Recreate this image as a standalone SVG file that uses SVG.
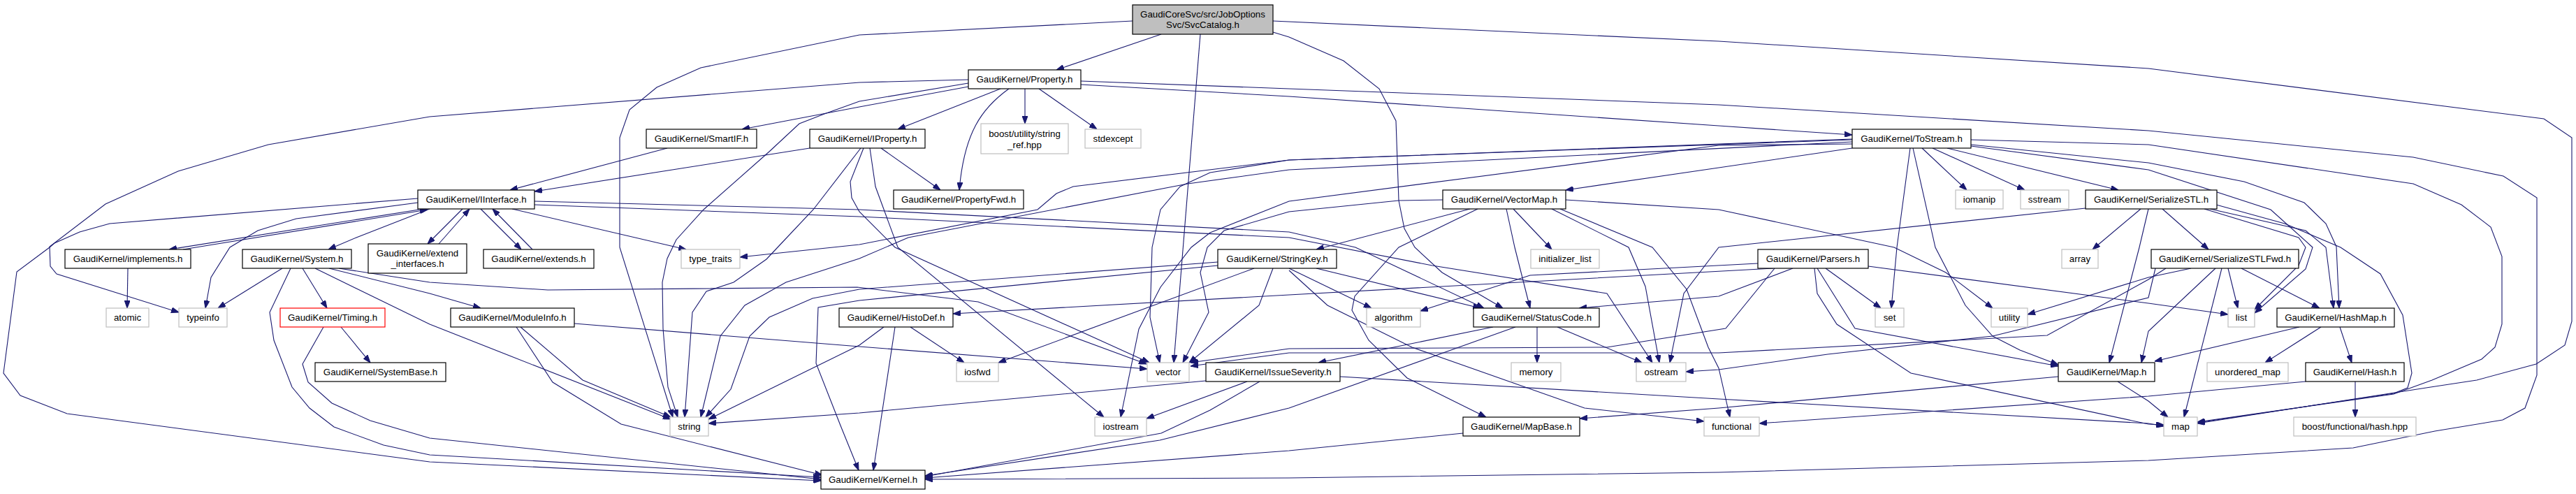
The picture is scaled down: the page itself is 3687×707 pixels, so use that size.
<svg xmlns="http://www.w3.org/2000/svg" width="3687" height="707" viewBox="0 0 3687 707">
<defs>
<marker id="a" viewBox="0 0 11 8" refX="11" refY="4" markerWidth="11" markerHeight="8" markerUnits="userSpaceOnUse" orient="auto">
<path d="M0,0 L11,4 L0,8 z" fill="#191970" stroke="#191970" stroke-width="1"/>
</marker>
</defs>
<style>
rect{fill:#ffffff;stroke:#000000;stroke-width:1.2}
.s rect{stroke:#bfbfbf}
.r rect{stroke:#ff0000}
.root rect{fill:#bfbfbf}
text{font-family:"Liberation Sans",Arial,Helvetica,sans-serif;font-size:13.3px;fill:#000000;text-anchor:middle}
#edges path{fill:none;stroke:#191970;stroke-width:1.1;marker-end:url(#a)}
</style>
<rect x="0" y="0" width="3687" height="707" style="fill:#ffffff;stroke:none"/>
<g id="edges">
<path d="M1662,49 L1512,100"/>
<path d="M1621,30 L1230,50 L1003,97 L940,125 L901,157 L887,197 L887,354 L963,597"/>
<path d="M1718,49 L1680,519"/>
<path d="M1822,46 L1845,53 L1923,87 L1974,127 L1998,173 L2002,287 L2010,327 L2025,354 L2064,390 L2151,441"/>
<path d="M1822,30 L2460,59 L3075,98 L3641,170 L3681,197 L3681,460 L3671,494 L3630,521 L3545,544 L3479,554 L3145,606"/>
<path d="M1432,127 L1285,185"/>
<path d="M1444,127 C1405,155 1380,190 1373,272"/>
<path d="M1467,127 L1467,177"/>
<path d="M1487,127 L1570,185"/>
<path d="M1386,124 L1230,153 L1062,185"/>
<path d="M1547,121 L1845,138 L2460,180 L2651,193"/>
<path d="M1547,116 L1845,127 L2460,150 L3075,187 L3454,225 L3583,252 L3631,283 L3631,537 L3614,584 L3582,601 L3485,617 L3368,641 L3075,659 L2460,676 L1845,684 L1324,686"/>
<path d="M1386,114 L1230,118 L615,167 L384,207 L255,245 L151,292 L71,353 L72,381 L81,392 L256,447"/>
<path d="M1386,119 L1230,145 L1180,163 L1144,177 L1101,217 L1007,300 L968,343 L955,370 L948,404 L949,470 L956,554 L970,597"/>
<path d="M598,284 L157,320 L114,332 L78,348 L71,354 L24,389 L5,534 L29,566 L96,592 L615,661 L1175,688"/>
<path d="M598,290 L424,313 L369,330 L329,354 L302,397 L294,441"/>
<path d="M615,299 L510,340 L470,357"/>
<path d="M606,299 L242,357"/>
<path d="M262,357 L612,300"/>
<path d="M662,299 L612,349"/>
<path d="M628,349 L672,299"/>
<path d="M688,299 L746,357"/>
<path d="M762,357 L705,299"/>
<path d="M733,299 L982,357"/>
<path d="M765,288 L1230,300 L1845,332 L1940,354 L2124,441"/>
<path d="M765,293 L1230,310 L1845,340 L2050,380 L2300,420 L2365,519"/>
<path d="M183,384 L182,441"/>
<path d="M404,384 L312,441"/>
<path d="M416,384 L386,447 L392,487 L418,554 L443,584 L478,611 L549,637 L615,651 L1175,683"/>
<path d="M433,384 L468,441"/>
<path d="M451,384 L615,464 L960,600"/>
<path d="M471,384 L615,420 L688,441"/>
<path d="M485,384 L615,404 L784,415 L1227,411 L1400,432 L1641,521"/>
<path d="M488,468 L530,519"/>
<path d="M463,468 L433,521 L441,547 L475,577 L530,602 L615,627 L1175,686"/>
<path d="M739,468 L791,547 L889,607 L1177,680"/>
<path d="M745,468 L834,544 L960,597"/>
<path d="M822,463 L1230,496 L1642,528"/>
<path d="M1159,212 L765,274"/>
<path d="M1261,212 L1346,272"/>
<path d="M1232,212 L1164,300 L1113,354 L1097,371 L1050,404 L1011,417 L991,447 L980,597"/>
<path d="M1236,212 L1217,260 L1219,283 L1230,303 L1281,354 L1645,519"/>
<path d="M1245,212 L1253,267 L1285,354 L1580,597"/>
<path d="M955,212 L730,272"/>
<path d="M2751,212 L2815,272"/>
<path d="M2766,212 L2898,272"/>
<path d="M2787,212 L3032,272"/>
<path d="M2734,212 L2715,354 L2707,441"/>
<path d="M2738,212 L2770,354 L2813,437 L2852,481 L2891,501 L2946,522"/>
<path d="M2651,212 L2460,240 L2241,272"/>
<path d="M2821,207 L3075,233 L3212,260 L3298,290 L3329,320 L3344,353 L3348,441"/>
<path d="M2821,209 L3075,243 L3250,300 L3310,354 L3300,385 L3227,448"/>
<path d="M2821,200 L3075,207 L3454,263 L3523,293 L3565,325 L3581,367 L3581,464 L3571,497 L3552,514 L3481,544 L3426,564 L3145,604"/>
<path d="M2651,203 L1845,243 L1700,263 L1300,340 L1230,370 L1125,404 L1066,437 L1031,481 L1003,597"/>
<path d="M2651,200 L1845,229 L1536,267 L1512,277 L1485,300 L1230,350 L1059,368"/>
<path d="M2651,206 L2460,208 L1845,288 L1732,333 L1705,354 L1661,411 L1630,471 L1604,597"/>
<path d="M2651,199 L1845,229 L1732,247 L1689,267 L1661,300 L1649,354 L1646,454 L1660,519"/>
<path d="M2104,299 L1884,357"/>
<path d="M2115,299 L2002,354 L1939,424 L1935,444 L1959,487 L2014,541 L2127,597"/>
<path d="M2156,299 L2168,354 L2190,441"/>
<path d="M2166,299 L2221,357"/>
<path d="M2221,299 L2331,354 L2355,410 L2375,519"/>
<path d="M2233,299 L2365,354 L2414,414 L2445,497 L2460,527 L2476,597"/>
<path d="M2241,286 L2460,300 L2711,354 L2785,390 L2852,441"/>
<path d="M2065,286 L2002,287 L1845,303 L1752,330 L1728,354 L1718,390 L1730,447 L1693,519"/>
<path d="M1845,384 L1963,441"/>
<path d="M1884,384 L2119,441"/>
<path d="M1845,387 L1900,437 L2021,497 L2268,584 L2439,603"/>
<path d="M1795,384 L1429,519"/>
<path d="M1822,384 L1802,437 L1702,519"/>
<path d="M1743,375 L1230,414 L1163,427 L1101,454 L1073,481 L1046,557 L1010,597"/>
<path d="M1743,380 L1230,430 L1171,440 L1168,520 L1203,609 L1229,673"/>
<path d="M1303,468 L1380,519"/>
<path d="M1281,468 L1250,673"/>
<path d="M1265,468 L1230,494 L1014,600"/>
<path d="M2613,384 L2692,441"/>
<path d="M2601,384 L2655,470 L2946,524"/>
<path d="M2597,384 L2601,420 L2629,464 L2735,534 L3075,607 L3097,608"/>
<path d="M2674,381 L3075,434 L3189,450"/>
<path d="M2516,377 L2190,394 L2033,445"/>
<path d="M2538,384 L1845,422 L1364,449"/>
<path d="M2566,384 L2460,424 L2260,441"/>
<path d="M2540,384 L2470,470 L2300,497 L1845,499 L1704,519"/>
<path d="M3095,299 L3161,357"/>
<path d="M3064,299 L2995,357"/>
<path d="M3075,299 L3062,354 L3019,519"/>
<path d="M3163,299 L3300,330 L3329,354 L3340,441"/>
<path d="M3155,299 L3290,340 L3300,354 L3290,380 L3227,443"/>
<path d="M3172,293 L3270,320 L3350,354 L3407,392 L3439,451 L3452,534 L3446,555 L3426,563 L3145,605"/>
<path d="M2985,298 L2460,354 L2410,420 L2390,519"/>
<path d="M3189,384 L3203,441"/>
<path d="M3208,384 L3320,441"/>
<path d="M3180,384 L3126,597"/>
<path d="M3136,384 L3075,397 L2902,450"/>
<path d="M3171,384 L3075,474 L3065,519"/>
<path d="M3100,384 L3075,400 L2930,480 L2460,505 L1845,505 L1704,524"/>
<path d="M3085,384 L3075,426 L2852,481 L2616,507 L2460,529 L2413,532"/>
<path d="M3291,468 L3084,517"/>
<path d="M3322,468 L3242,519"/>
<path d="M3349,468 L3366,519"/>
<path d="M3371,546 L3371,597"/>
<path d="M3300,546 L3075,567 L2518,606"/>
<path d="M2946,539 L2460,584 L2261,599"/>
<path d="M3031,546 L3075,574 L3103,597"/>
<path d="M1726,545 L1230,591 L1014,606"/>
<path d="M1785,546 L1641,599"/>
<path d="M1803,546 L1732,587 L1662,620 L1324,682"/>
<path d="M1918,539 L2460,571 L3075,606 L3097,610"/>
<path d="M2137,468 L1887,519"/>
<path d="M2200,468 L2200,519"/>
<path d="M2229,468 L2350,519"/>
<path d="M2169,468 L1845,584 L1660,630 L1324,681"/>
<path d="M2094,620 L1845,645 L1324,684"/>
</g>
<g id="n_root" class="root"><rect x="1621" y="7" width="201" height="42"/><text x="1721.5" y="25">GaudiCoreSvc/src/JobOptions</text><text x="1721.5" y="40">Svc/SvcCatalog.h</text></g>
<g id="n_Property"><rect x="1386" y="100" width="161" height="27"/><text x="1466.5" y="118">GaudiKernel/Property.h</text></g>
<g id="n_SmartIF"><rect x="925" y="185" width="158" height="27"/><text x="1004" y="203">GaudiKernel/SmartIF.h</text></g>
<g id="n_IProperty"><rect x="1159" y="185" width="165" height="27"/><text x="1241.5" y="203">GaudiKernel/IProperty.h</text></g>
<g id="n_string_ref" class="s"><rect x="1404" y="177" width="125" height="43"/><text x="1466.5" y="195.5">boost/utility/string</text><text x="1466.5" y="211.5">_ref.hpp</text></g>
<g id="n_stdexcept" class="s"><rect x="1553" y="185" width="80" height="27"/><text x="1593" y="203">stdexcept</text></g>
<g id="n_ToStream"><rect x="2651" y="185" width="170" height="27"/><text x="2736" y="203">GaudiKernel/ToStream.h</text></g>
<g id="n_IInterface"><rect x="598" y="272" width="167" height="27"/><text x="681.5" y="290">GaudiKernel/IInterface.h</text></g>
<g id="n_PropertyFwd"><rect x="1279" y="272" width="186" height="27"/><text x="1372" y="290">GaudiKernel/PropertyFwd.h</text></g>
<g id="n_VectorMap"><rect x="2065" y="272" width="176" height="27"/><text x="2153" y="290">GaudiKernel/VectorMap.h</text></g>
<g id="n_iomanip" class="s"><rect x="2799" y="272" width="68" height="27"/><text x="2833" y="290">iomanip</text></g>
<g id="n_sstream" class="s"><rect x="2892" y="272" width="69" height="27"/><text x="2926.5" y="290">sstream</text></g>
<g id="n_SerializeSTL"><rect x="2985" y="272" width="188" height="27"/><text x="3079" y="290">GaudiKernel/SerializeSTL.h</text></g>
<g id="n_implements"><rect x="93" y="357" width="180" height="27"/><text x="183" y="375">GaudiKernel/implements.h</text></g>
<g id="n_System"><rect x="347" y="357" width="156" height="27"/><text x="425" y="375">GaudiKernel/System.h</text></g>
<g id="n_extend_interfaces"><rect x="527" y="349" width="141" height="42"/><text x="597.5" y="367">GaudiKernel/extend</text><text x="597.5" y="382">_interfaces.h</text></g>
<g id="n_extends"><rect x="692" y="357" width="158" height="27"/><text x="771" y="375">GaudiKernel/extends.h</text></g>
<g id="n_type_traits" class="s"><rect x="975" y="357" width="84" height="27"/><text x="1017" y="375">type_traits</text></g>
<g id="n_StringKey"><rect x="1743" y="357" width="170" height="27"/><text x="1828" y="375">GaudiKernel/StringKey.h</text></g>
<g id="n_initializer_list" class="s"><rect x="2191" y="357" width="98" height="27"/><text x="2240" y="375">initializer_list</text></g>
<g id="n_Parsers"><rect x="2516" y="357" width="158" height="27"/><text x="2595" y="375">GaudiKernel/Parsers.h</text></g>
<g id="n_array" class="s"><rect x="2951" y="357" width="52" height="27"/><text x="2977" y="375">array</text></g>
<g id="n_SerializeSTLFwd"><rect x="3079" y="357" width="211" height="27"/><text x="3184.5" y="375">GaudiKernel/SerializeSTLFwd.h</text></g>
<g id="n_atomic" class="s"><rect x="152" y="441" width="61" height="27"/><text x="182.5" y="459">atomic</text></g>
<g id="n_typeinfo" class="s"><rect x="256" y="441" width="69" height="27"/><text x="290.5" y="459">typeinfo</text></g>
<g id="n_Timing" class="r"><rect x="401" y="441" width="150" height="27"/><text x="476" y="459">GaudiKernel/Timing.h</text></g>
<g id="n_ModuleInfo"><rect x="645" y="441" width="177" height="27"/><text x="733.5" y="459">GaudiKernel/ModuleInfo.h</text></g>
<g id="n_HistoDef"><rect x="1201" y="441" width="163" height="27"/><text x="1282.5" y="459">GaudiKernel/HistoDef.h</text></g>
<g id="n_algorithm" class="s"><rect x="1956" y="441" width="77" height="27"/><text x="1994.5" y="459">algorithm</text></g>
<g id="n_StatusCode"><rect x="2109" y="441" width="180" height="27"/><text x="2199" y="459">GaudiKernel/StatusCode.h</text></g>
<g id="n_set" class="s"><rect x="2684" y="441" width="41" height="27"/><text x="2704.5" y="459">set</text></g>
<g id="n_utility" class="s"><rect x="2850" y="441" width="52" height="27"/><text x="2876" y="459">utility</text></g>
<g id="n_list" class="s"><rect x="3189" y="441" width="38" height="27"/><text x="3208" y="459">list</text></g>
<g id="n_HashMap"><rect x="3259" y="441" width="168" height="27"/><text x="3343" y="459">GaudiKernel/HashMap.h</text></g>
<g id="n_SystemBase"><rect x="451" y="519" width="187" height="27"/><text x="544.5" y="537">GaudiKernel/SystemBase.h</text></g>
<g id="n_iosfwd" class="s"><rect x="1369" y="519" width="60" height="27"/><text x="1399" y="537">iosfwd</text></g>
<g id="n_vector" class="s"><rect x="1642" y="519" width="60" height="27"/><text x="1672" y="537">vector</text></g>
<g id="n_IssueSeverity"><rect x="1726" y="519" width="192" height="27"/><text x="1822" y="537">GaudiKernel/IssueSeverity.h</text></g>
<g id="n_memory" class="s"><rect x="2163" y="519" width="71" height="27"/><text x="2198.5" y="537">memory</text></g>
<g id="n_ostream" class="s"><rect x="2342" y="519" width="71" height="27"/><text x="2377.5" y="537">ostream</text></g>
<g id="n_Map"><rect x="2946" y="519" width="138" height="27"/><text x="3015" y="537">GaudiKernel/Map.h</text></g>
<g id="n_unordered_map" class="s"><rect x="3159" y="519" width="116" height="27"/><text x="3217" y="537">unordered_map</text></g>
<g id="n_Hash"><rect x="3300" y="519" width="141" height="27"/><text x="3370.5" y="537">GaudiKernel/Hash.h</text></g>
<g id="n_string" class="s"><rect x="959" y="597" width="55" height="27"/><text x="986.5" y="615">string</text></g>
<g id="n_iostream" class="s"><rect x="1567" y="597" width="74" height="27"/><text x="1604" y="615">iostream</text></g>
<g id="n_MapBase"><rect x="2094" y="597" width="167" height="27"/><text x="2177.5" y="615">GaudiKernel/MapBase.h</text></g>
<g id="n_functional" class="s"><rect x="2439" y="597" width="79" height="27"/><text x="2478.5" y="615">functional</text></g>
<g id="n_map" class="s"><rect x="3097" y="597" width="48" height="27"/><text x="3121" y="615">map</text></g>
<g id="n_boost_hash" class="s"><rect x="3283" y="597" width="175" height="27"/><text x="3370.5" y="615">boost/functional/hash.hpp</text></g>
<g id="n_Kernel"><rect x="1175" y="673" width="149" height="27"/><text x="1249.5" y="691">GaudiKernel/Kernel.h</text></g>
</svg>
